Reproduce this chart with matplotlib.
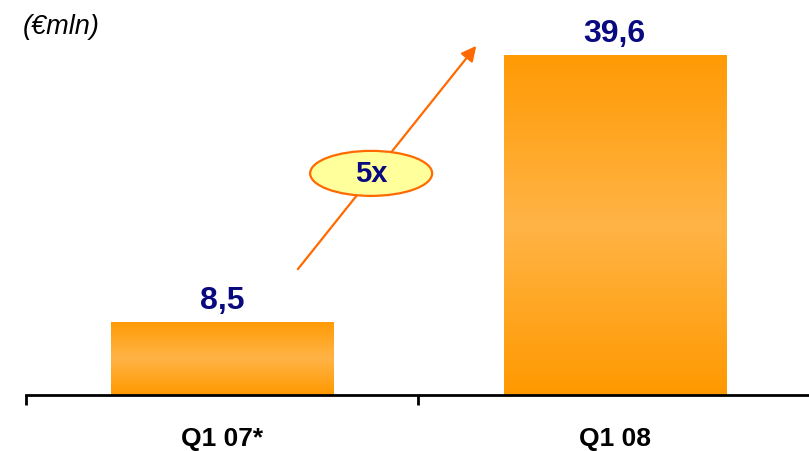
import numpy as np
import matplotlib.pyplot as plt
from matplotlib.colors import LinearSegmentedColormap
from matplotlib.patches import Ellipse

plt.rcParams['font.family'] = ['Liberation Sans', 'DejaVu Sans']

categories = ["Q1 07*", "Q1 08"]
values = [8.5, 39.6]
value_labels = ["8,5", "39,6"]
growth_label = "5x"
unit_label = "(€mln)"

NAVY = "#0A0A80"
ARROW = "#FF6A00"

fig = plt.figure(figsize=(8.09, 4.52), dpi=100)
ax = fig.add_axes([26 / 809, 56 / 452, 783 / 809, 396 / 452])

x = np.arange(len(categories))
bars = ax.bar(x, values, width=0.566, color="none", edgecolor="none", zorder=2)

# vertical orange gradient: darker at the ends, lighter in the middle
cmap = LinearSegmentedColormap.from_list(
    "bar_grad", [(0.0, "#FF9900"), (0.5, "#FFB446"), (1.0, "#FF9A04")])
grad = np.linspace(0, 1, 256).reshape(-1, 1)
for bar in bars:
    x0, w, h = bar.get_x(), bar.get_width(), bar.get_height()
    im = ax.imshow(grad, cmap=cmap, aspect="auto", origin="lower",
                   extent=[x0, x0 + w, 0, h], zorder=2)
    im.set_clip_path(bar)

for xi, v, lab in zip(x, values, value_labels):
    ax.annotate(lab, (xi, v), xytext=(0, 5), textcoords="offset points",
                ha="center", va="bottom", fontsize=23, fontweight="bold",
                color=NAVY)

ax.set_xlim(-0.5, 1.4955)
ax.set_ylim(0, 46.1)

for side in ["left", "right", "top"]:
    ax.spines[side].set_visible(False)
ax.spines["bottom"].set_linewidth(2)
ax.set_yticks([])
ax.set_xticks(x)
ax.set_xticklabels(categories, fontsize=19, fontweight="bold")
ax.tick_params(axis="x", which="major", length=0, pad=22)
ax.set_xticks([-0.5, 0.5], minor=True)
ax.tick_params(axis="x", which="minor", length=7, width=2, direction="out")

# growth arrow with the multiplier badge
ax.annotate("", xy=(0.652, 40.9), xytext=(0.1885, 14.4),
            arrowprops=dict(arrowstyle="-|>,head_length=0.9,head_width=0.45",
                            color=ARROW, lw=1.6), zorder=3)
ax.add_patch(Ellipse((0.3796, 25.8), 0.311, 5.24, facecolor="#FFFF9C",
                     edgecolor=ARROW, lw=1.6, zorder=4))
ax.text(0.3796, 25.8, growth_label, ha="center", va="center", fontsize=21,
        fontweight="bold", color=NAVY, zorder=5)

fig.text(23 / 809, 1 - 27 / 452, unit_label, fontsize=19.5, style="italic",
         ha="left", va="center")

fig.savefig("out.png", dpi=100)
